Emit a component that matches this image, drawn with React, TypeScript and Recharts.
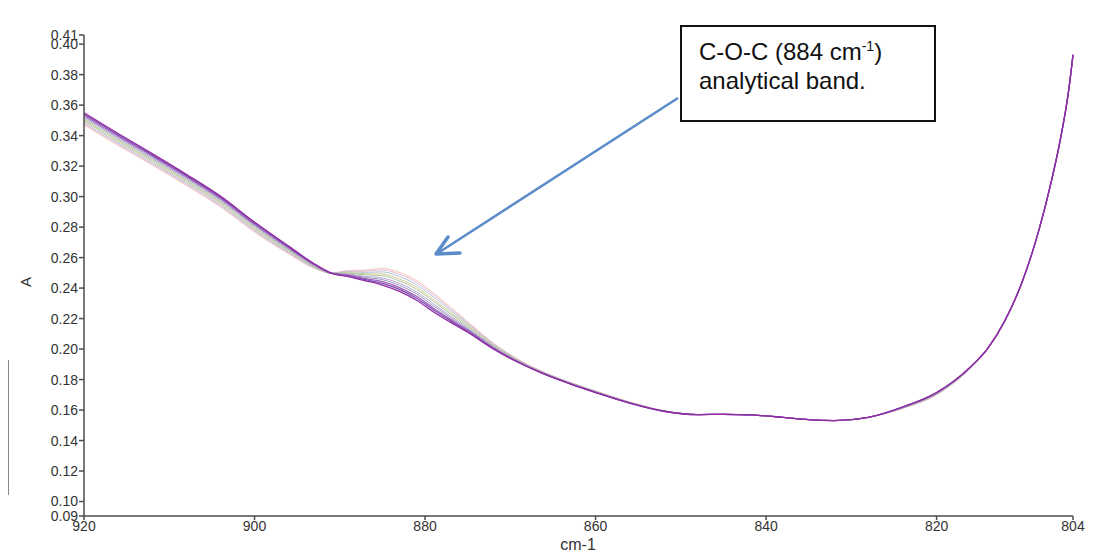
import React from "react";
import { LineChart, Line, XAxis, YAxis } from "recharts";

// wavenumber grid (cm-1)
const WAVENUMBERS = [
    920, 916, 912, 908, 904, 900, 896, 893, 891, 889, 887, 885, 883, 881, 879, 877, 875, 872, 869, 866, 863,
    860, 856, 852, 848, 845, 842, 838, 835, 832, 828, 824, 820, 816, 814, 812, 810, 808, 806.5, 805.5, 804.5, 804,
];

// absorbance spectra, darkest (highest at 920) to palest (highest at the 884 band)
const SPECTRUM_1 = [
    0.3550, 0.3414, 0.3282, 0.3146, 0.3003, 0.2833, 0.2675, 0.2560, 0.2498, 0.2475, 0.2448, 0.2420, 0.2378, 0.2320,
    0.2243, 0.2175, 0.2110, 0.2000, 0.1910, 0.1835, 0.1772, 0.1715, 0.1645, 0.1592, 0.1570, 0.1572, 0.1568, 0.1552,
    0.1537, 0.1531, 0.1552, 0.1620, 0.1715, 0.1885, 0.2005, 0.2185, 0.2435, 0.2780, 0.3110, 0.3370, 0.3700, 0.3930,
];
const SPECTRUM_2 = [
    0.3542, 0.3406, 0.3274, 0.3139, 0.2996, 0.2827, 0.2670, 0.2557, 0.2498, 0.2479, 0.2455, 0.2431, 0.2391, 0.2333,
    0.2256, 0.2185, 0.2117, 0.2004, 0.1912, 0.1836, 0.1773, 0.1716, 0.1646, 0.1592, 0.1570, 0.1572, 0.1568, 0.1552,
    0.1537, 0.1531, 0.1552, 0.1619, 0.1714, 0.1884, 0.2005, 0.2185, 0.2435, 0.2780, 0.3110, 0.3370, 0.3700, 0.3930,
];
const SPECTRUM_3 = [
    0.3534, 0.3398, 0.3267, 0.3132, 0.2989, 0.2820, 0.2665, 0.2554, 0.2498, 0.2483, 0.2462, 0.2442, 0.2403, 0.2346,
    0.2268, 0.2195, 0.2124, 0.2008, 0.1914, 0.1837, 0.1774, 0.1717, 0.1647, 0.1593, 0.1570, 0.1572, 0.1568, 0.1552,
    0.1537, 0.1531, 0.1552, 0.1618, 0.1712, 0.1883, 0.2004, 0.2185, 0.2435, 0.2780, 0.3110, 0.3370, 0.3700, 0.3930,
];
const SPECTRUM_4 = [
    0.3524, 0.3389, 0.3258, 0.3123, 0.2981, 0.2812, 0.2659, 0.2550, 0.2498, 0.2488, 0.2470, 0.2455, 0.2418, 0.2362,
    0.2283, 0.2207, 0.2132, 0.2013, 0.1916, 0.1839, 0.1775, 0.1718, 0.1648, 0.1593, 0.1570, 0.1572, 0.1568, 0.1552,
    0.1537, 0.1531, 0.1552, 0.1617, 0.1710, 0.1882, 0.2003, 0.2185, 0.2435, 0.2780, 0.3110, 0.3370, 0.3700, 0.3930,
];
const SPECTRUM_5 = [
    0.3516, 0.3381, 0.3250, 0.3116, 0.2974, 0.2806, 0.2654, 0.2547, 0.2498, 0.2492, 0.2477, 0.2466, 0.2431, 0.2375,
    0.2296, 0.2217, 0.2139, 0.2017, 0.1918, 0.1840, 0.1776, 0.1719, 0.1648, 0.1594, 0.1570, 0.1572, 0.1568, 0.1552,
    0.1537, 0.1531, 0.1552, 0.1616, 0.1709, 0.1881, 0.2003, 0.2185, 0.2435, 0.2780, 0.3110, 0.3370, 0.3700, 0.3930,
];
const SPECTRUM_6 = [
    0.3506, 0.3371, 0.3241, 0.3106, 0.2965, 0.2797, 0.2648, 0.2544, 0.2498, 0.2497, 0.2487, 0.2481, 0.2447, 0.2392,
    0.2312, 0.2230, 0.2149, 0.2022, 0.1921, 0.1842, 0.1778, 0.1721, 0.1649, 0.1594, 0.1570, 0.1572, 0.1568, 0.1552,
    0.1537, 0.1531, 0.1552, 0.1615, 0.1707, 0.1880, 0.2002, 0.2185, 0.2435, 0.2780, 0.3110, 0.3370, 0.3700, 0.3930,
];
const SPECTRUM_7 = [
    0.3498, 0.3363, 0.3233, 0.3099, 0.2958, 0.2791, 0.2643, 0.2541, 0.2498, 0.2501, 0.2494, 0.2492, 0.2459, 0.2405,
    0.2324, 0.2240, 0.2156, 0.2026, 0.1923, 0.1843, 0.1779, 0.1722, 0.1650, 0.1595, 0.1570, 0.1572, 0.1568, 0.1552,
    0.1537, 0.1531, 0.1552, 0.1614, 0.1705, 0.1879, 0.2002, 0.2185, 0.2435, 0.2780, 0.3110, 0.3370, 0.3700, 0.3930,
];
const SPECTRUM_8 = [
    0.3488, 0.3353, 0.3224, 0.3090, 0.2948, 0.2782, 0.2636, 0.2537, 0.2498, 0.2506, 0.2503, 0.2506, 0.2476, 0.2421,
    0.2341, 0.2253, 0.2165, 0.2031, 0.1926, 0.1844, 0.1780, 0.1723, 0.1651, 0.1595, 0.1570, 0.1572, 0.1568, 0.1552,
    0.1537, 0.1531, 0.1552, 0.1612, 0.1703, 0.1877, 0.2001, 0.2185, 0.2435, 0.2780, 0.3110, 0.3370, 0.3700, 0.3930,
];
const SPECTRUM_9 = [
    0.3478, 0.3344, 0.3215, 0.3081, 0.2940, 0.2775, 0.2630, 0.2533, 0.2498, 0.2511, 0.2511, 0.2519, 0.2491, 0.2437,
    0.2356, 0.2265, 0.2173, 0.2036, 0.1928, 0.1846, 0.1781, 0.1724, 0.1652, 0.1596, 0.1570, 0.1572, 0.1568, 0.1552,
    0.1537, 0.1531, 0.1552, 0.1611, 0.1702, 0.1876, 0.2001, 0.2185, 0.2435, 0.2780, 0.3110, 0.3370, 0.3700, 0.3930,
];
const SPECTRUM_10 = [
    0.3470, 0.3336, 0.3207, 0.3074, 0.2933, 0.2768, 0.2625, 0.2530, 0.2498, 0.2515, 0.2518, 0.2530, 0.2503, 0.2450,
    0.2368, 0.2275, 0.2180, 0.2040, 0.1930, 0.1847, 0.1782, 0.1725, 0.1653, 0.1596, 0.1570, 0.1572, 0.1568, 0.1552,
    0.1537, 0.1531, 0.1552, 0.1610, 0.1700, 0.1875, 0.2000, 0.2185, 0.2435, 0.2780, 0.3110, 0.3370, 0.3700, 0.3930,
];

const SPECTRA = [
    SPECTRUM_1, SPECTRUM_2, SPECTRUM_3, SPECTRUM_4, SPECTRUM_5,
    SPECTRUM_6, SPECTRUM_7, SPECTRUM_8, SPECTRUM_9, SPECTRUM_10,
];

const COLORS = [
    "#932ba3", "#7b52b5", "#a35fb8", "#9a9ac0", "#b9a3d6",
    "#a9c9a0", "#d8c98a", "#a9c4e0", "#e3b7c8", "#f4c7c0",
];

const X_TICKS = [920, 900, 880, 860, 840, 820, 804];
const Y_TICKS = [
    0.0905, 0.10, 0.12, 0.14, 0.16, 0.18, 0.20, 0.22, 0.24, 0.26, 0.28, 0.30, 0.32, 0.34, 0.36, 0.38, 0.40, 0.406,
];

const FONT = "'Liberation Sans', Arial, sans-serif";
const AXIS_COLOR = "#4d4d4d";

const data = WAVENUMBERS.map((wn, i) => {
    const row: { [key: string]: number } = { wn };
    SPECTRA.forEach((s, k) => {
        row[`s${k}`] = s[i];
    });
    return row;
});

const renderYLabel = () => (
    <text x={19} y={274} transform="rotate(-90 19 274)" textAnchor="middle" dominantBaseline="middle"
          fontFamily={FONT} fontSize={15} fill="#333">
        A
    </text>
);

const renderXLabel = () => (
    <text x={570} y={538} textAnchor="middle" dominantBaseline="middle" fontFamily={FONT} fontSize={16} fill="#333">
        cm-1
    </text>
);

const App: React.FC = () => {
    return (
        <div style={{ position: "relative", width: 1097, height: 545 }}>
            <LineChart width={1097} height={545} data={data} margin={{ top: 27, right: 32, left: 0, bottom: 7 }}>
                <XAxis
                    dataKey="wn"
                    type="number"
                    domain={[804, 920]}
                    reversed
                    ticks={X_TICKS}
                    interval={0}
                    height={30}
                    tickSize={4}
                    tickMargin={1}
                    stroke={AXIS_COLOR}
                    strokeWidth={1.5}
                    tick={{ fill: "#333", fontSize: 14, fontFamily: FONT }}
                    label={{ content: renderXLabel }}
                />
                <YAxis
                    type="number"
                    domain={[0.0905, 0.406]}
                    ticks={Y_TICKS}
                    interval={0}
                    width={76}
                    tickSize={5}
                    tickMargin={1}
                    stroke={AXIS_COLOR}
                    strokeWidth={1.5}
                    tickFormatter={(v: number) => v.toFixed(2)}
                    tick={{ fill: "#333", fontSize: 14, fontFamily: FONT }}
                    label={{ content: renderYLabel }}
                />
                {SPECTRA.map((_, k) => SPECTRA.length - 1 - k).map((k) => (
                    <Line
                        key={`s${k}`}
                        dataKey={`s${k}`}
                        type="monotone"
                        stroke={COLORS[k]}
                        strokeWidth={k < 3 ? 1.3 : 1}
                        dot={false}
                        isAnimationActive={false}
                    />
                ))}
            </LineChart>

            {/* annotation arrow */}
            <svg width={1097} height={545} style={{ position: "absolute", left: 0, top: 0, pointerEvents: "none" }}>
                <line x1={670} y1={90} x2={430} y2={245} stroke="#5b8bc9" strokeWidth={2.5} />
                <polyline points="452,245 428,246 440,229" fill="none" stroke="#5b8bc9" strokeWidth={3.5}
                          strokeLinecap="round" strokeLinejoin="round" />
            </svg>

            {/* annotation box */}
            <div style={{
                position: "absolute", left: 672, top: 17, width: 256, height: 97, boxSizing: "border-box",
                border: "2px solid #111", background: "#fff", padding: "10px 0 0 17px",
                fontFamily: FONT, fontSize: 24, lineHeight: "29px", color: "#111",
            }}>
                <div>C-O-C (884 cm<sup style={{ fontSize: 14, lineHeight: 0 }}>-1</sup>)</div>
                <div>analytical band.</div>
            </div>

            {/* window scrollbar remnant at the left edge */}
            <div style={{ position: "absolute", left: -1, top: 352, width: 2, height: 135, background: "#888" }} />
        </div>
    );
};

export default App;
